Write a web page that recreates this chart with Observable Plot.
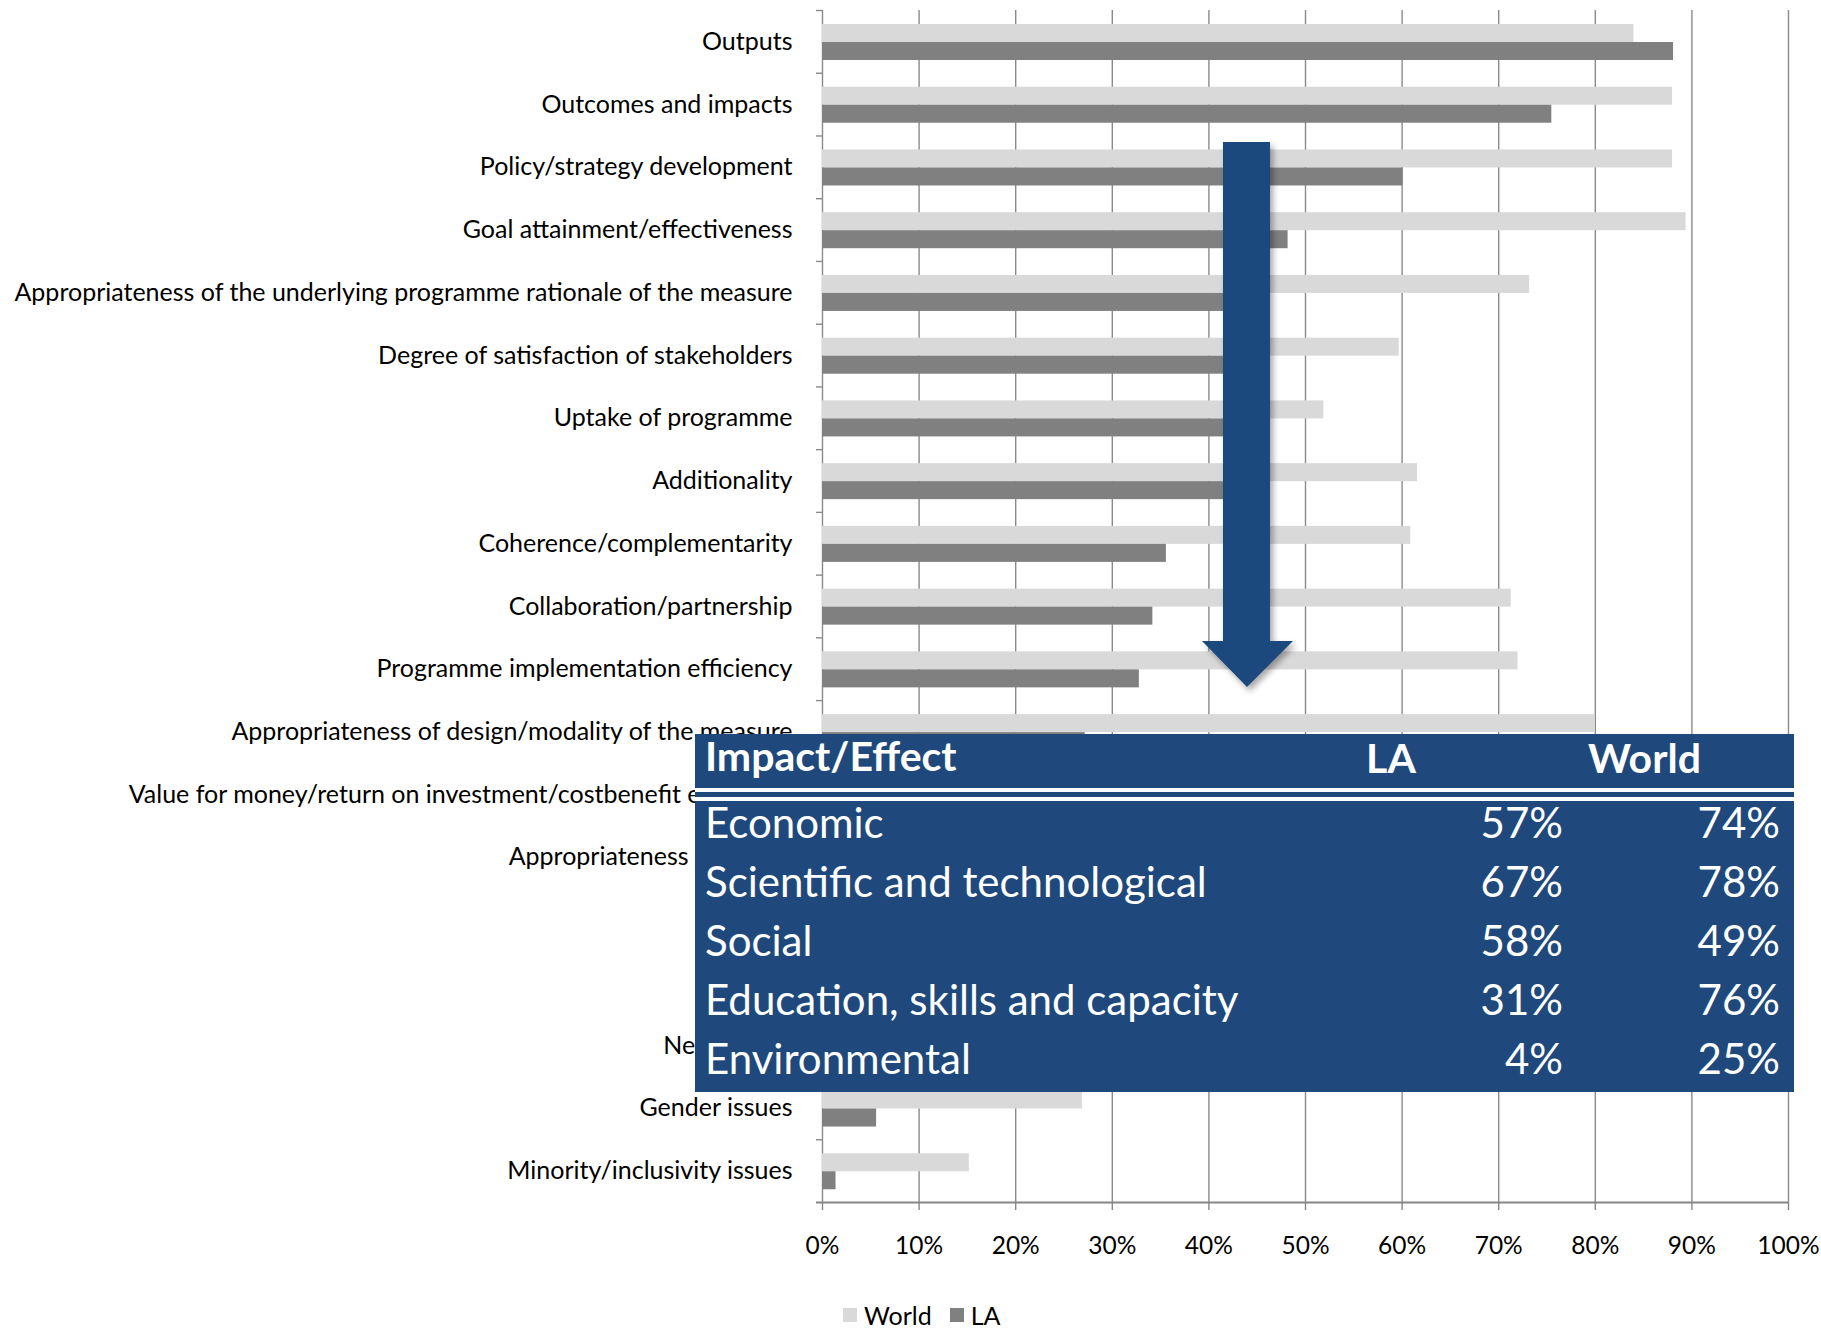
<!DOCTYPE html>
<html>
<head>
<meta charset="utf-8">
<script src="https://cdn.jsdelivr.net/npm/d3@7"></script>
<script src="https://cdn.jsdelivr.net/npm/@observablehq/plot@0.6"></script>
<style>
  html, body { margin: 0; padding: 0; background: #fff; }
  body { width: 1821px; height: 1328px; overflow: hidden; position: relative; font-family: Lato, "Open Sans", sans-serif; }
  #chart { position: absolute; left: 0; top: 0; }
  #legend { position: absolute; left: 843px; top: 1300px; display: flex; align-items: center; font-size: 25px; color: #000; }
  #legend .sw { display: inline-block; width: 14px; height: 14px; margin-right: 7px; }
  #legend .item { display: flex; align-items: center; margin-right: 18px; }
  #table { position: absolute; left: 695px; top: 734px; width: 1099px; height: 358px; background: #1F497D; color: #fff; }
  #table .hdr { position: absolute; left: 0; top: 0; width: 100%; height: 54px; font-weight: 700; font-size: 41px; }
  #table .sep1 { position: absolute; left: 0; top: 54px; width: 100%; height: 4px; background: #fff; }
  #table .sep2 { position: absolute; left: 0; top: 63px; width: 100%; height: 4px; background: #fff; }
  #table .cell { position: absolute; white-space: nowrap; line-height: 1; }
  #table .row { position: absolute; left: 0; width: 100%; height: 59px; font-size: 42px; }
  #arrow { position: absolute; left: 0; top: 0; pointer-events: none; }
</style>
</head>
<body>
<div id="chart"></div>
<svg id="arrow" width="1821" height="1328"></svg>
<div id="table"></div>
<div id="legend"></div>
<script>
// ---- Data ----
const categories = [
  "Outputs",
  "Outcomes and impacts",
  "Policy/strategy development",
  "Goal attainment/effectiveness",
  "Appropriateness of the underlying programme rationale of the measure",
  "Degree of satisfaction of stakeholders",
  "Uptake of programme",
  "Additionality",
  "Coherence/complementarity",
  "Collaboration/partnership",
  "Programme implementation efficiency",
  "Appropriateness of design/modality of the measure",
  "Value for money/return on investment/costbenefit efficiency",
  "Appropriateness of timing",
  "Quality",
  "Impact",
  "Networking",
  "Gender issues",
  "Minority/inclusivity issues"
];
const worldValues = [84, 88, 88, 89.4, 73.2, 59.7, 51.9, 61.6, 60.9, 71.3, 72.0, 80.0, 60, 62, 45, 40, 35, 26.9, 15.2];
const laValues    = [88.1, 75.5, 60.1, 48.2, 46, 45, 44, 42.5, 35.6, 34.2, 32.8, 27.2, 25, 21, 18, 14, 9, 5.6, 1.4];
const seriesNames = ["World", "LA"];
const seriesColors = ["#D9D9D9", "#808080"];
const xTickValues = [0, 10, 20, 30, 40, 50, 60, 70, 80, 90, 100];
const xTickLabels = ["0%", "10%", "20%", "30%", "40%", "50%", "60%", "70%", "80%", "90%", "100%"];

// Overlay table data
const tableHeader = ["Impact/Effect", "LA", "World"];
const tableRows = ["Economic", "Scientific and technological", "Social", "Education, skills and capacity", "Environmental"];
const tableLA = ["57%", "67%", "58%", "31%", "4%"];
const tableWorld = ["74%", "78%", "49%", "76%", "25%"];

// ---- Layout ----
const W = 1821, H = 1282;
const mt = 10, mb = 80, ml = 822, mr = 33;
const band = (H - mt - mb) / categories.length;
const half = band / 2;

const rows = categories.map((c, i) => ({category: c, world: worldValues[i], la: laValues[i]}));

const plot = Plot.plot({
  width: W,
  height: H,
  marginTop: mt,
  marginBottom: mb,
  marginLeft: ml,
  marginRight: mr,
  style: {fontFamily: "Lato, 'Open Sans', sans-serif", fontSize: "25px", color: "#000", background: "#fff"},
  x: {domain: [0, 100], axis: null},
  y: {domain: categories, padding: 0, round: false, axis: null},
  marks: [
    Plot.ruleX(xTickValues, {x: d => d, stroke: "#8a8a8a", strokeWidth: 1.4}),
    Plot.barX(rows, {y: "category", x: "world", fill: seriesColors[0], insetTop: band * 0.223, insetBottom: band - band * 0.51}),
    Plot.barX(rows, {y: "category", x: "la", fill: seriesColors[1], insetTop: band * 0.51, insetBottom: band - band * 0.797}),
    // category boundary ticks on the left
    Plot.tickY(categories, {y: d => d, dy: -half, stroke: "#8a8a8a", strokeWidth: 1.4, insetRight: W - ml - mr, insetLeft: -6}),
    // bottom axis line
    Plot.tickY([categories[categories.length - 1]], {y: d => d, dy: half, stroke: "#868686", strokeWidth: 2.2, insetLeft: -6}),
    Plot.axisY({label: null, tickSize: 0, tickPadding: 30, fontSize: 25, fill: "#000"}),
    Plot.axisX({label: null, ticks: xTickValues, tickFormat: d => xTickLabels[xTickValues.indexOf(d)], tickSize: 8, tickPadding: 26, stroke: "#868686", strokeWidth: 1.4, fontSize: 24.5, fill: "#000"})
  ]
});
document.getElementById("chart").appendChild(plot);

// ---- Legend ----
const legend = document.getElementById("legend");
seriesNames.forEach((s, i) => {
  const it = document.createElement("span");
  it.className = "item";
  it.innerHTML = `<span class="sw" style="background:${seriesColors[i]}"></span><span>${s}</span>`;
  legend.appendChild(it);
});

// ---- Arrow annotation ----
const arrow = d3.select("#arrow");
const defs = arrow.append("defs");
const f = defs.append("filter").attr("id", "sh").attr("x", "-20%").attr("y", "-5%").attr("width", "160%").attr("height", "120%");
f.append("feDropShadow").attr("dx", 3).attr("dy", 4).attr("stdDeviation", 3).attr("flood-color", "#000").attr("flood-opacity", 0.35);
arrow.append("polygon")
  .attr("points", [[1223, 142], [1270, 142], [1270, 641], [1293, 641], [1247, 687], [1202, 641], [1223, 641]].map(p => p.join(",")).join(" "))
  .attr("fill", "#1F497D")
  .attr("filter", "url(#sh)");

// ---- Table annotation ----
const tbl = d3.select("#table");
const hdr = tbl.append("div").attr("class", "hdr");
hdr.append("div").attr("class", "cell").style("left", "10px").style("top", "1px").text(tableHeader[0]);
hdr.append("div").attr("class", "cell").style("left", "696px").style("top", "3px").style("transform", "translateX(-50%)").text(tableHeader[1]);
hdr.append("div").attr("class", "cell").style("left", "893px").style("top", "3px").text(tableHeader[2]);
tbl.append("div").attr("class", "sep1");
tbl.append("div").attr("class", "sep2");
tableRows.forEach((r, i) => {
  const row = tbl.append("div").attr("class", "row").style("top", (59 + i * 59) + "px");
  row.append("div").attr("class", "cell").style("left", "10px").style("top", "8px").text(r);
  row.append("div").attr("class", "cell").style("right", (1099 - 868) + "px").style("top", "8px").text(tableLA[i]);
  row.append("div").attr("class", "cell").style("right", (1099 - 1085) + "px").style("top", "8px").text(tableWorld[i]);
});
</script>
</body>
</html>
